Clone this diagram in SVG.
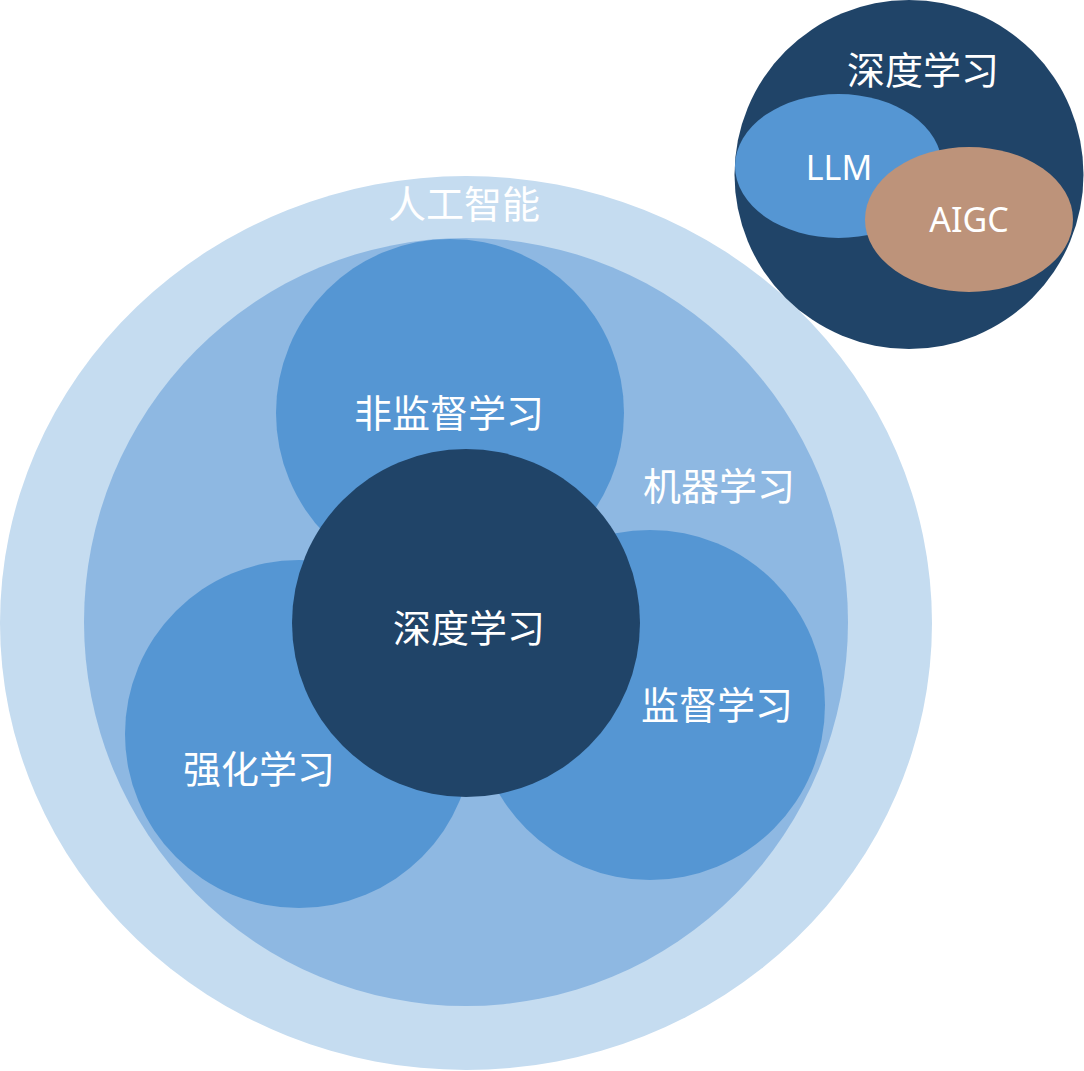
<svg xmlns="http://www.w3.org/2000/svg" width="1084" height="1071" viewBox="0 0 1084 1071">
<style>
.t{font-family:"Noto Sans CJK SC","Noto Sans",sans-serif;font-size:38px;fill:#fff;text-anchor:middle}
.l{font-family:"Noto Sans","Noto Sans CJK SC",sans-serif;font-size:34px;fill:#fff;text-anchor:middle}
.c1{fill:#C5DCF0}.c2{fill:#8EB8E2}.c3{fill:#5596D3}.c4{fill:#204468}.c5{fill:#BD937A}
</style>
<rect width="1084" height="1071" fill="#fff"/>
<g id="ai"><ellipse class="c1" cx="466" cy="623" rx="466" ry="447"/><text class="t" x="464" y="218">人工智能</text></g>
<g id="ml"><ellipse class="c2" cx="466" cy="622" rx="382" ry="384"/><text class="t" x="719" y="500">机器学习</text></g>
<g id="unsupervised"><circle class="c3" cx="450" cy="413" r="174"/><text class="t" x="449" y="427">非监督学习</text></g>
<g id="reinforcement"><circle class="c3" cx="299" cy="734" r="174"/><text class="t" x="259" y="783">强化学习</text></g>
<g id="supervised"><circle class="c3" cx="650" cy="705" r="175"/><text class="t" x="717" y="719">监督学习</text></g>
<g id="dl"><circle class="c4" cx="466" cy="623" r="174"/><text class="t" x="469" y="642">深度学习</text></g>
<g id="dl2"><circle class="c4" cx="909" cy="174.5" r="174.5"/><text class="t" x="923" y="84">深度学习</text></g>
<g id="llm"><ellipse class="c3" cx="838.5" cy="166" rx="103.5" ry="72"/><text class="l" x="839" y="180">LLM</text></g>
<g id="aigc"><ellipse class="c5" cx="969" cy="219.5" rx="104" ry="72.5"/><text class="l" x="969" y="232">AIGC</text></g>
<g id="connectors"/>
</svg>
